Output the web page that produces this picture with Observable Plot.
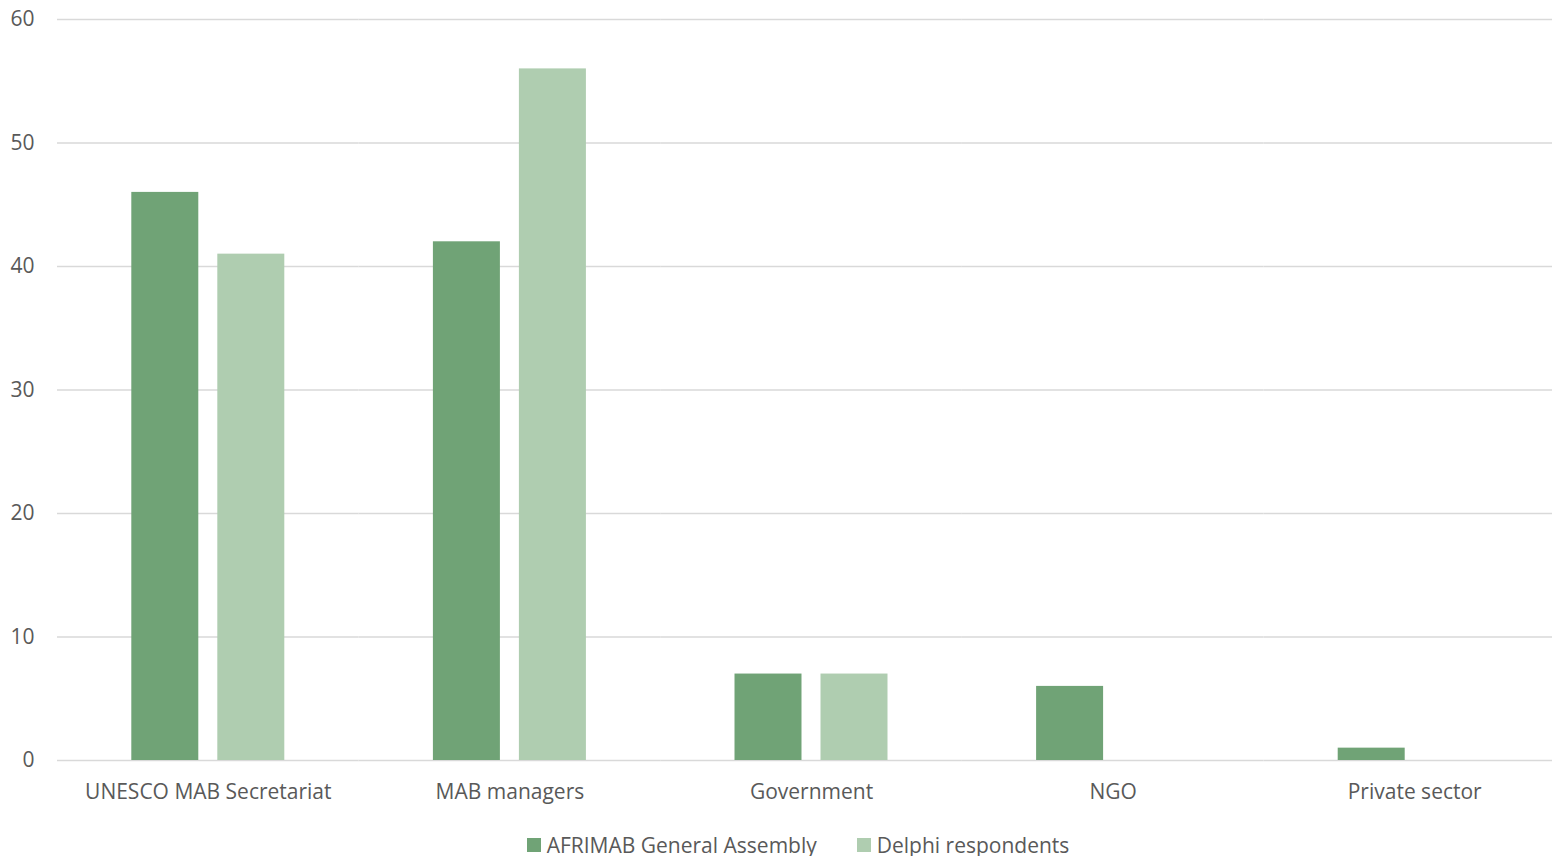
<!DOCTYPE html>
<html>
<head>
<meta charset="utf-8">
<script src="https://cdn.jsdelivr.net/npm/d3@7"></script>
<script src="https://cdn.jsdelivr.net/npm/@observablehq/plot@0.6"></script>
<style>
  html, body { margin: 0; background: #fff; font-family: "Open Sans", sans-serif; overflow: hidden; }
  #chart { width: 1552px; overflow: hidden; }
  #chart svg { max-width: none !important; }
  #legend { width: 1552px; display: flex; justify-content: center; gap: 40px; padding-left: 44px; box-sizing: border-box; font-size: 21px; color: #595959; height: 40px; align-items: center; }
  #legend span.sw { display: inline-block; width: 14px; height: 14px; margin-right: 6px; vertical-align: middle; position: relative; top: -2px; }
</style>
</head>
<body>
<div id="chart"></div>
<div id="legend"></div>
<script>
const categories = ["UNESCO MAB Secretariat", "MAB managers", "Government", "NGO", "Private sector"];
const series = ["AFRIMAB General Assembly", "Delphi respondents"];
const afrimab = [46, 42, 7, 6, 1];
const delphi = [41, 56, 7, 0, 0];
const colors = ["#70a376", "#afcdb0"];
const yTicks = [0, 10, 20, 30, 40, 50, 60];

const data = [];
categories.forEach((c, i) => {
  data.push({category: c, series: series[0], value: afrimab[i]});
  data.push({category: c, series: series[1], value: delphi[i]});
});

const chart = Plot.plot({
  width: 1565,
  height: 825,
  marginLeft: 57,
  marginRight: 0,
  marginTop: 19,
  marginBottom: 65,
  style: {fontFamily: "Open Sans, sans-serif", fontSize: "21px", color: "#595959", maxWidth: "none"},
  fx: {domain: categories, padding: 0, round: false, label: null},
  x: {domain: series, paddingInner: 0.221, paddingOuter: 0.864, round: false, axis: null},
  y: {domain: [0, 60], label: null},
  color: {domain: series, range: colors},
  marks: [
    Plot.gridY(yTicks, {stroke: "#d9d9d9", strokeOpacity: 1, strokeWidth: 1.5}),
    Plot.barY(data, {fx: "category", x: "series", y: "value", fill: "series"}),
    Plot.axisY(yTicks, {tickSize: 0, tickPadding: 23, label: null, fontSize: 21, fill: "#595959"}),
    Plot.axisFx({anchor: "bottom", tickSize: 0, tickPadding: 24, label: null, fontSize: 21, fill: "#595959"})
  ]
});
document.getElementById("chart").appendChild(chart);

const legend = document.getElementById("legend");
series.forEach((s, i) => {
  const item = document.createElement("div");
  const sw = document.createElement("span");
  sw.className = "sw";
  sw.style.background = colors[i];
  item.appendChild(sw);
  item.appendChild(document.createTextNode(s));
  legend.appendChild(item);
});
</script>
</body>
</html>
